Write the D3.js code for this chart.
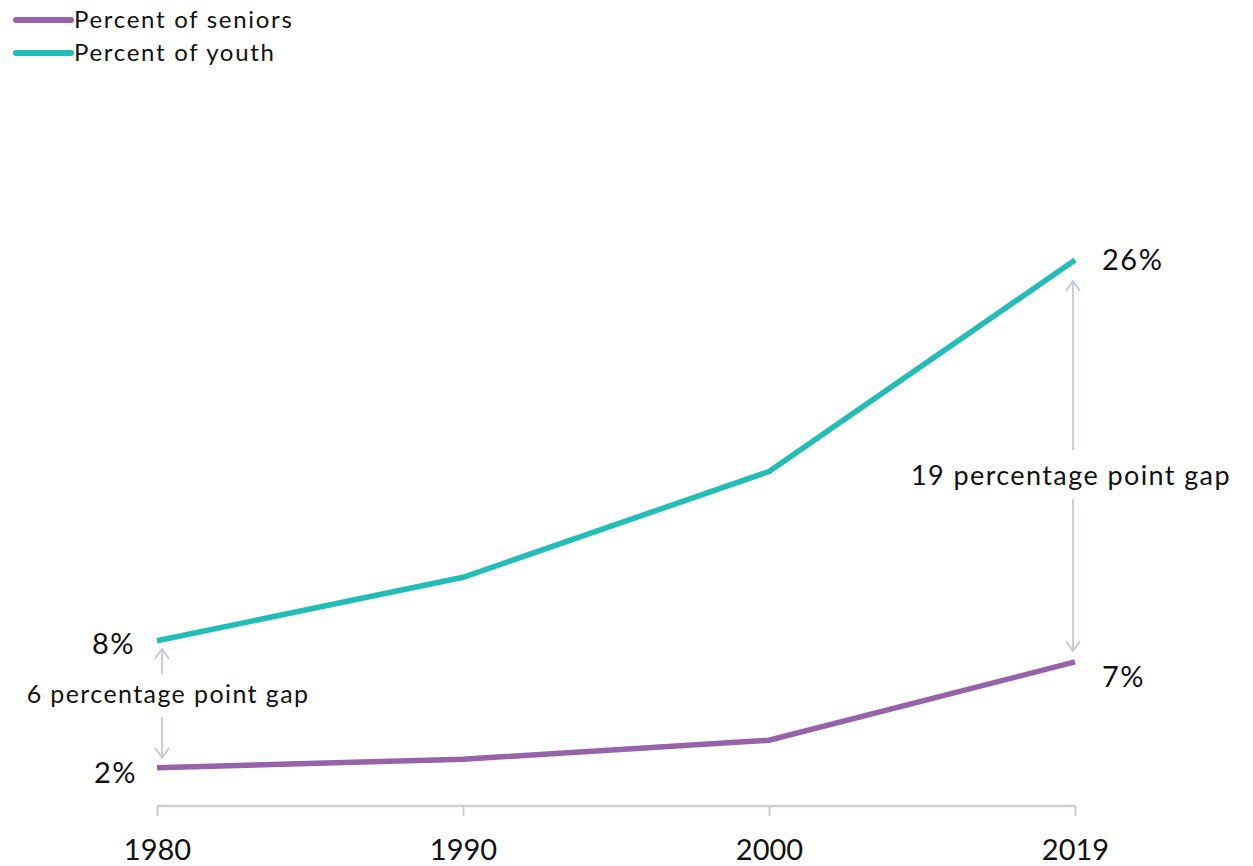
<!DOCTYPE html>
<html>
<head>
<meta charset="utf-8">
<script src="https://cdn.jsdelivr.net/npm/d3@7"></script>
<style>
  html, body { margin: 0; padding: 0; background: #fff; }
  svg { display: block; font-family: Lato, "Open Sans", sans-serif; }
</style>
</head>
<body>
<svg id="chart" width="1253" height="866"></svg>
<script>
// Years shown on the x axis
const years = ["1980", "1990", "2000", "2019"];
// Share of each age group (%)
const seniors = [2, 2.4, 3.3, 7];
const youth = [8, 11, 16, 26];
const seriesNames = ["Percent of seniors", "Percent of youth"];
const seriesColors = ["#9662aa", "#22bdb7"];

const svg = d3.select("#chart");

const x = d3.scalePoint().domain(years).range([157, 1075]);
const y = d3.scaleLinear().domain([0, 26]).range([810, 260]);

// x axis
const axisY = 806;
const axis = svg.append("g")
  .attr("transform", `translate(0,${axisY})`)
  .call(d3.axisBottom(x).tickSize(10).tickSizeOuter(0).tickPadding(23));
axis.select(".domain").attr("stroke", "#c9cfd5").attr("stroke-width", 2.5)
  .attr("d", `M${x(years[0])},0H${x(years[years.length - 1])}`);
axis.selectAll(".tick line").attr("stroke", "#c9cfd5").attr("stroke-width", 2);
axis.selectAll(".tick text")
  .attr("fill", "#111")
  .attr("font-size", 29)
  .attr("font-family", "Lato, sans-serif")
  .attr("dy", "0.71em");

// lines
const line = d3.line().x((d, i) => x(years[i])).y(d => y(d));
[seniors, youth].forEach((vals, k) => {
  svg.append("path")
    .datum(vals)
    .attr("fill", "none")
    .attr("stroke", seriesColors[k])
    .attr("stroke-width", 5.5)
    .attr("stroke-linejoin", "miter")
    .attr("d", line);
});

// end value labels
const fmt = v => `${v}%`;
const last = years.length - 1;
const labelStyle = sel => sel.attr("fill", "#111").attr("font-size", 29)
  .attr("letter-spacing", 1.5);
svg.append("text").call(labelStyle).attr("text-anchor", "end")
  .attr("x", x(years[0]) - 22).attr("y", y(youth[0]) + 13).text(fmt(youth[0]));
svg.append("text").call(labelStyle).attr("text-anchor", "end")
  .attr("x", x(years[0]) - 20).attr("y", y(seniors[0]) + 15).text(fmt(seniors[0]));
svg.append("text").call(labelStyle).attr("text-anchor", "start")
  .attr("x", x(years[last]) + 27).attr("y", y(youth[last]) + 10).text(fmt(youth[last]));
svg.append("text").call(labelStyle).attr("text-anchor", "start")
  .attr("x", x(years[last]) + 27).attr("y", y(seniors[last]) + 25).text(fmt(seniors[last]));

// gap annotations: double-headed arrows split around a text label
const arrowColor = "#c2c9d0";
function chevron(cx, cy, dir) {
  // dir = -1 for an upward head, +1 for a downward head
  return `M${cx - 7},${cy - dir * 10}L${cx},${cy}L${cx + 7},${cy - dir * 10}`;
}
function gapArrow(cx, topY, bottomY, textX, textY, gapTop, gapBottom, label, fontSize) {
  const g = svg.append("g");
  g.append("path")
    .attr("d", `M${cx},${topY}V${gapTop}` + chevron(cx, topY, -1))
    .attr("fill", "none").attr("stroke", arrowColor).attr("stroke-width", 1.8);
  g.append("path")
    .attr("d", `M${cx},${gapBottom}V${bottomY}` + chevron(cx, bottomY, 1))
    .attr("fill", "none").attr("stroke", arrowColor).attr("stroke-width", 1.8);
  g.append("text")
    .attr("x", textX).attr("y", textY)
    .attr("text-anchor", "middle")
    .attr("fill", "#111").attr("font-size", fontSize)
    .attr("letter-spacing", 1.4)
    .text(label);
}
const gap0 = Math.round(youth[0] - seniors[0]);
const gapN = Math.round(youth[last] - seniors[last]);
gapArrow(x(years[0]) + 5, y(youth[0]) + 8, y(seniors[0]) - 10, 168, 703, 674, 717,
  `${gap0} percentage point gap`, 25);
gapArrow(x(years[last]) - 2, y(youth[last]) + 21, y(seniors[last]) - 11, 1071, 485, 450, 499,
  `${gapN} percentage point gap`, 27);

// legend
const legend = svg.append("g");
seriesNames.forEach((name, i) => {
  const ly = 20 + i * 33;
  legend.append("line")
    .attr("x1", 16).attr("x2", 71).attr("y1", ly).attr("y2", ly)
    .attr("stroke", seriesColors[i]).attr("stroke-width", 6)
    .attr("stroke-linecap", "round");
  legend.append("text")
    .attr("x", 74).attr("y", ly + 8)
    .attr("fill", "#111").attr("font-size", 24)
    .attr("letter-spacing", 1.7)
    .text(name);
});
</script>
</body>
</html>
